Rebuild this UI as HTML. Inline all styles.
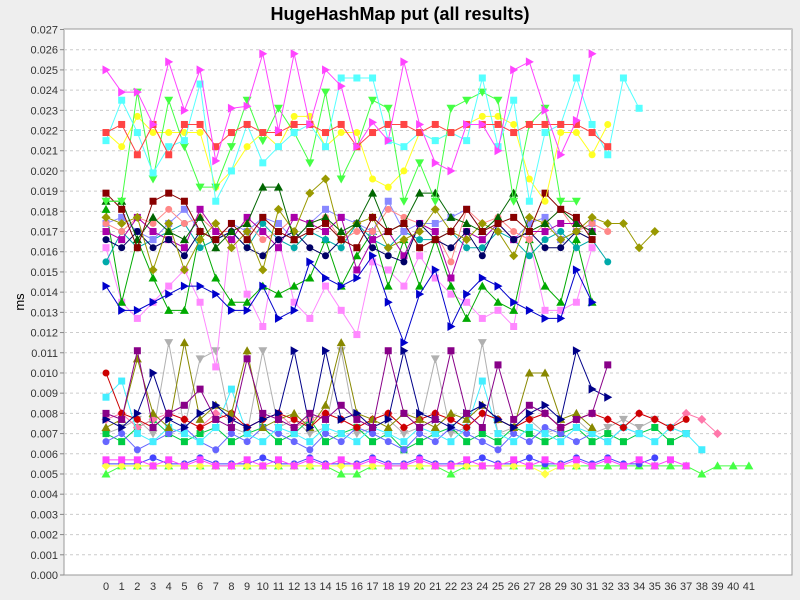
<!DOCTYPE html>
<html><head><meta charset="utf-8"><style>
body{margin:0;background:#eeeeee;font-family:"Liberation Sans",sans-serif}
svg{display:block}
</style></head><body>
<svg id="chart" width="800" height="600">
<rect x="0" y="0" width="800" height="600" fill="#eeeeee"/>
<text x="400" y="20" text-anchor="middle" font-size="18" font-weight="bold" fill="#000">HugeHashMap put (all results)</text>
<rect x="64" y="29" width="728" height="546" fill="#fff" stroke="#999"/>
<text transform="translate(24,302) rotate(-90)" text-anchor="middle" font-size="13">ms</text>
<g id="grid"></g>
<g id="series"></g>
<g id="axes"></g>
</svg>
<script>
const yTicks=[0,0.001,0.002,0.003,0.004,0.005,0.006,0.007,0.008,0.009,0.010,0.011,0.012,0.013,0.014,0.015,0.016,0.017,0.018,0.019,0.020,0.021,0.022,0.023,0.024,0.025,0.026,0.027];
const xCats=[];for(let i=0;i<=41;i++)xCats.push(i);
const magentaTop=[0.0250,0.0239,0.0239,0.0223,0.0254,0.0230,0.0250,0.0205,0.0231,0.0232,0.0258,0.0220,0.0258,0.0223,0.0250,0.0242,0.0212,0.0224,0.0215,0.0254,0.0223,0.0204,0.0200,0.0223,0.0223,0.0210,0.0250,0.0254,0.0230,0.0208,0.0225,0.0258];
const redTop=[0.0219,0.0223,0.0208,0.0223,0.0208,0.0223,0.0223,0.0212,0.0219,0.0223,0.0219,0.0219,0.0223,0.0223,0.0219,0.0223,0.0212,0.0219,0.0223,0.0223,0.0219,0.0223,0.0219,0.0223,0.0223,0.0223,0.0219,0.0223,0.0223,0.0223,0.0223,0.0219,0.0212];
const cyanTop=[0.0215,0.0235,0.0219,0.0199,0.0212,0.0215,0.0243,0.0185,0.0200,0.0223,0.0204,0.0212,0.0219,0.0223,0.0212,0.0246,0.0246,0.0246,0.0215,0.0212,0.0219,0.0215,0.0219,0.0215,0.0246,0.0212,0.0235,0.0185,0.0219,0.0223,0.0246,0.0223,0.0208,0.0246,0.0231];
const greenTop=[0.0185,0.0185,0.0239,0.0196,0.0235,0.0212,0.0192,0.0192,0.0212,0.0235,0.0215,0.0231,0.0219,0.0204,0.0239,0.0196,0.0212,0.0235,0.0231,0.0185,0.0204,0.0185,0.0231,0.0235,0.0239,0.0235,0.0185,0.0223,0.0231,0.0185,0.0185];
const yellowTop=[0.0219,0.0212,0.0227,0.0219,0.0219,0.0219,0.0219,0.0192,0.0200,0.0212,0.0219,0.0212,0.0227,0.0227,0.0212,0.0219,0.0219,0.0196,0.0192,0.0200,0.0219,0.0215,0.0219,0.0223,0.0227,0.0227,0.0223,0.0196,0.0185,0.0219,0.0219,0.0208,0.0223];
const blueMid=[0.0143,0.0131,0.0131,0.0135,0.0139,0.0143,0.0143,0.0139,0.0131,0.0131,0.0143,0.0127,0.0131,0.0155,0.0147,0.0143,0.0147,0.0158,0.0135,0.0115,0.0139,0.0151,0.0123,0.0139,0.0147,0.0143,0.0135,0.0131,0.0127,0.0127,0.0151,0.0135];
const greenMid=[0.0181,0.0135,0.0166,0.0147,0.0131,0.0131,0.0170,0.0147,0.0135,0.0135,0.0143,0.0139,0.0143,0.0147,0.0166,0.0143,0.0158,0.0170,0.0143,0.0166,0.0143,0.0166,0.0143,0.0127,0.0143,0.0135,0.0131,0.0166,0.0143,0.0135,0.0166,0.0135];
const pinkMid=[0.0162,0.0135,0.0127,0.0135,0.0143,0.0151,0.0135,0.0103,0.0174,0.0139,0.0123,0.0166,0.0135,0.0127,0.0143,0.0131,0.0119,0.0155,0.0151,0.0143,0.0158,0.0147,0.0139,0.0135,0.0127,0.0131,0.0123,0.0166,0.0131,0.0131,0.0135,0.0162];
const maroonUp=[0.0189,0.0181,0.0162,0.0185,0.0189,0.0185,0.0170,0.0166,0.0174,0.0166,0.0177,0.0170,0.0166,0.0170,0.0174,0.0166,0.0162,0.0177,0.0170,0.0174,0.0162,0.0166,0.0170,0.0181,0.0170,0.0174,0.0177,0.0170,0.0189,0.0181,0.0177,0.0166];
const navyUp=[0.0166,0.0162,0.0170,0.0162,0.0166,0.0158,0.0170,0.0166,0.0170,0.0162,0.0158,0.0166,0.0170,0.0162,0.0158,0.0166,0.0174,0.0162,0.0158,0.0155,0.0174,0.0166,0.0162,0.0170,0.0158,0.0174,0.0166,0.0170,0.0162,0.0162,0.0170,0.0166];
const oliveUp=[0.0177,0.0174,0.0177,0.0151,0.0174,0.0151,0.0166,0.0174,0.0162,0.0170,0.0151,0.0181,0.0170,0.0189,0.0196,0.0166,0.0174,0.0177,0.0162,0.0166,0.0170,0.0181,0.0170,0.0166,0.0174,0.0170,0.0158,0.0177,0.0174,0.0166,0.0170,0.0177,0.0174,0.0174,0.0162,0.0170];
const purpleUp=[0.0170,0.0166,0.0177,0.0170,0.0166,0.0162,0.0181,0.0170,0.0166,0.0177,0.0170,0.0162,0.0177,0.0174,0.0170,0.0177,0.0151,0.0166,0.0170,0.0158,0.0174,0.0170,0.0147,0.0170,0.0166,0.0174,0.0166,0.0170,0.0170,0.0174,0.0174,0.0170];
const dgreenUp=[0.0185,0.0185,0.0166,0.0177,0.0170,0.0166,0.0177,0.0162,0.0170,0.0174,0.0192,0.0192,0.0166,0.0174,0.0177,0.0170,0.0174,0.0189,0.0170,0.0174,0.0189,0.0189,0.0177,0.0174,0.0170,0.0177,0.0189,0.0170,0.0174,0.0181,0.0174,0.0170];
const salmonUp=[0.0174,0.0170,0.0177,0.0174,0.0181,0.0174,0.0177,0.0170,0.0170,0.0174,0.0166,0.0170,0.0177,0.0174,0.0177,0.0166,0.0170,0.0170,0.0181,0.0177,0.0174,0.0170,0.0155,0.0181,0.0174,0.0177,0.0170,0.0166,0.0174,0.0181,0.0170,0.0174,0.0170];
const tealUp=[0.0155,0.0170,0.0162,0.0166,0.0170,0.0174,0.0162,0.0166,0.0170,0.0162,0.0174,0.0166,0.0162,0.0170,0.0166,0.0162,0.0174,0.0166,0.0162,0.0170,0.0166,0.0166,0.0170,0.0162,0.0162,0.0170,0.0166,0.0158,0.0166,0.0170,0.0162,0.0166,0.0155];
const lavUp=[0.0174,0.0177,0.0170,0.0166,0.0174,0.0181,0.0170,0.0166,0.0174,0.0170,0.0177,0.0174,0.0166,0.0174,0.0181,0.0177,0.0174,0.0170,0.0185,0.0170,0.0174,0.0174,0.0177,0.0181,0.0170,0.0174,0.0166,0.0174,0.0177,0.0166,0.0170,0.0174];
const purpleLow=[0.0080,0.0077,0.0111,0.0073,0.0080,0.0084,0.0092,0.0077,0.0073,0.0107,0.0080,0.0077,0.0073,0.0080,0.0077,0.0084,0.0077,0.0073,0.0111,0.0080,0.0073,0.0077,0.0111,0.0080,0.0073,0.0104,0.0077,0.0084,0.0080,0.0073,0.0077,0.0080,0.0104];
const navyLow=[0.0077,0.0073,0.0080,0.0100,0.0077,0.0073,0.0080,0.0084,0.0077,0.0073,0.0077,0.0080,0.0111,0.0073,0.0111,0.0077,0.0080,0.0073,0.0077,0.0111,0.0080,0.0077,0.0073,0.0080,0.0084,0.0077,0.0073,0.0080,0.0084,0.0077,0.0111,0.0092,0.0088];
const oliveLow=[0.0073,0.0077,0.0107,0.0080,0.0073,0.0115,0.0077,0.0084,0.0080,0.0111,0.0073,0.0077,0.0080,0.0073,0.0084,0.0115,0.0080,0.0077,0.0073,0.0080,0.0077,0.0073,0.0080,0.0077,0.0084,0.0077,0.0073,0.0100,0.0100,0.0077,0.0080,0.0073];
const grayLow=[0.0070,0.0073,0.0077,0.0070,0.0115,0.0073,0.0107,0.0111,0.0073,0.0070,0.0111,0.0073,0.0077,0.0070,0.0073,0.0111,0.0070,0.0073,0.0077,0.0070,0.0073,0.0107,0.0070,0.0073,0.0115,0.0070,0.0073,0.0077,0.0070,0.0073,0.0077,0.0070,0.0073,0.0077,0.0073,0.0077,0.0073,0.0070];
const redLow=[0.0100,0.0080,0.0077,0.0073,0.0080,0.0077,0.0073,0.0077,0.0080,0.0073,0.0077,0.0080,0.0077,0.0073,0.0080,0.0077,0.0073,0.0077,0.0080,0.0073,0.0077,0.0080,0.0077,0.0073,0.0080,0.0077,0.0073,0.0077,0.0080,0.0073,0.0077,0.0080,0.0077,0.0073,0.0080,0.0077,0.0073,0.0077];
const cyanLow=[0.0088,0.0096,0.0070,0.0066,0.0073,0.0070,0.0066,0.0073,0.0092,0.0070,0.0066,0.0073,0.0070,0.0066,0.0073,0.0070,0.0066,0.0073,0.0070,0.0066,0.0073,0.0070,0.0066,0.0073,0.0096,0.0070,0.0066,0.0073,0.0070,0.0066,0.0073,0.0070,0.0066,0.0073,0.0070,0.0066,0.0073,0.0070,0.0062];
const greenLow=[0.0070,0.0066,0.0073,0.0077,0.0070,0.0066,0.0070,0.0073,0.0066,0.0070,0.0073,0.0066,0.0070,0.0077,0.0066,0.0070,0.0073,0.0066,0.0070,0.0062,0.0066,0.0070,0.0073,0.0066,0.0070,0.0066,0.0073,0.0070,0.0066,0.0070,0.0073,0.0066,0.0070,0.0066,0.0070,0.0073,0.0066,0.0070];
const blueLow=[0.0066,0.0070,0.0062,0.0066,0.0070,0.0073,0.0066,0.0062,0.0070,0.0066,0.0073,0.0070,0.0066,0.0062,0.0070,0.0066,0.0073,0.0070,0.0066,0.0062,0.0070,0.0066,0.0073,0.0070,0.0066,0.0062,0.0070,0.0066,0.0073,0.0070,0.0066,0.0070,0.0066,0.0073,0.0070];
const pinkLow=[0.0077,0.0080,0.0073,0.0077,0.0080,0.0077,0.0073,0.0080,0.0077,0.0073,0.0077,0.0080,0.0073,0.0077,0.0080,0.0077,0.0073,0.0077,0.0080,0.0073,0.0077,0.0080,0.0077,0.0073,0.0080,0.0077,0.0073,0.0077,0.0080,0.0073,0.0077,0.0080,0.0077,0.0073,0.0080,0.0077,0.0073,0.0080,0.0077,0.0070];
const magentaBot=[0.0057,0.0057,0.0057,0.0054,0.0057,0.0054,0.0057,0.0054,0.0054,0.0057,0.0054,0.0057,0.0054,0.0057,0.0054,0.0057,0.0054,0.0057,0.0054,0.0054,0.0057,0.0054,0.0054,0.0057,0.0054,0.0054,0.0057,0.0054,0.0057,0.0054,0.0057,0.0054,0.0057,0.0054,0.0057,0.0054,0.0057,0.0054];
const yellowBot=[0.0054,0.0054,0.0054,0.0054,0.0054,0.0054,0.0054,0.0054,0.0054,0.0054,0.0054,0.0054,0.0054,0.0054,0.0054,0.0054,0.0054,0.0054,0.0054,0.0054,0.0054,0.0054,0.0054,0.0054,0.0054,0.0054,0.0054,0.0054,0.0050,0.0054,0.0054];
const blueBot=[0.0055,0.0055,0.0055,0.0058,0.0055,0.0055,0.0058,0.0055,0.0055,0.0055,0.0058,0.0055,0.0055,0.0058,0.0055,0.0055,0.0055,0.0058,0.0055,0.0055,0.0058,0.0055,0.0055,0.0055,0.0058,0.0055,0.0055,0.0058,0.0055,0.0055,0.0058,0.0055,0.0058,0.0055,0.0055,0.0058];
const greenBot=[0.0050,0.0054,0.0054,0.0054,0.0054,0.0054,0.0054,0.0054,0.0054,0.0054,0.0054,0.0054,0.0054,0.0054,0.0054,0.0050,0.0050,0.0054,0.0054,0.0054,0.0054,0.0054,0.0050,0.0054,0.0054,0.0054,0.0054,0.0054,0.0054,0.0054,0.0054,0.0054,0.0054,0.0054,0.0054,0.0054,0.0054,0.0054,0.0050,0.0054,0.0054,0.0054];
const series=[
 ['grayLow',grayLow,'#b0b0b0','down'],['greenLow',greenLow,'#00cc44','square'],['blueLow',blueLow,'#6666ff','circle'],
 ['pinkLow',pinkLow,'#ff77aa','diamond'],['cyanLow',cyanLow,'#44eeff','square'],['redLow',redLow,'#cc0000','circle'],
 ['oliveLow',oliveLow,'#888800','up'],['navyLow',navyLow,'#000088','right'],['purpleLow',purpleLow,'#880088','square'],
 ['greenBot',greenBot,'#44ff44','up'],['blueBot',blueBot,'#4444ff','circle'],['yellowBot',yellowBot,'#ffff44','diamond'],['magentaBot',magentaBot,'#ff44ff','square'],
 ['pinkMid',pinkMid,'#ff88ff','square'],['greenMid',greenMid,'#00aa00','up'],['blueMid',blueMid,'#0000cc','right'],
 ['tealUp',tealUp,'#00aaaa','circle'],['lavUp',lavUp,'#8888ff','square'],['salmonUp',salmonUp,'#ff8888','circle'],
 ['purpleUp',purpleUp,'#aa00aa','square'],['navyUp',navyUp,'#000066','circle'],['oliveUp',oliveUp,'#999900','diamond'],
 ['dgreenUp',dgreenUp,'#006600','up'],['maroonUp',maroonUp,'#880000','square'],
 ['yellowTop',yellowTop,'#ffff22','circle'],['greenTop',greenTop,'#44ff44','down'],['cyanTop',cyanTop,'#55ffff','square'],
 ['redTop',redTop,'#ff4444','square'],['magentaTop',magentaTop,'#ff44ff','right']
];
const NS='http://www.w3.org/2000/svg';
const X0=106,DX=15.68,Y0=575,YTOP=29.5,YMAX=0.027;
function xs(i){return X0+i*DX;}
function ys(v){return Y0-(v/YMAX)*(Y0-YTOP);}
function mk(tag,attrs,parent){const e=document.createElementNS(NS,tag);for(const k in attrs)e.setAttribute(k,attrs[k]);parent.appendChild(e);return e;}
const grid=document.getElementById('grid'),axes=document.getElementById('axes'),sg=document.getElementById('series');
yTicks.forEach(t=>{const y=ys(t);
 if(t>0){const l=mk('line',{x1:64,x2:792,y1:y,y2:y,stroke:'#ccc','stroke-dasharray':'3,3'},grid);
 
 }
 mk('line',{x1:60,x2:64,y1:y,y2:y,stroke:'#888'},axes);
 const tx=mk('text',{x:58,y:y+4,'text-anchor':'end','font-size':'11',fill:'#333'},axes);tx.textContent=t.toFixed(3);
 
 
});
xCats.forEach(c=>{const tx=mk('text',{x:xs(c),y:590,'text-anchor':'middle','font-size':'11',fill:'#333'},axes);tx.textContent=c;
 
 
});
function marker(shape,x,y,c,g){const s=3.5;let e;
 if(shape==='square')e=mk('rect',{x:x-s,y:y-s,width:2*s,height:2*s,fill:c},g);
 else if(shape==='circle')e=mk('circle',{cx:x,cy:y,r:s,fill:c},g);
 else{let p;
  if(shape==='up')p=[[x,y-s-1],[x+s+1,y+s],[x-s-1,y+s]];
  else if(shape==='down')p=[[x-s-1,y-s],[x+s+1,y-s],[x,y+s+1]];
  else if(shape==='right')p=[[x-s,y-s-1],[x+s+1,y],[x-s,y+s+1]];
  else p=[[x,y-s-1],[x+s+1,y],[x,y+s+1],[x-s-1,y]];
  e=mk('polygon',{points:p.map(q=>q.join(',')).join(' '),fill:c},g);}
 return e;}
series.forEach(([name,vals,col,shape])=>{
 const g=mk('g',{},sg);
 
 
 const pl=mk('polyline',{points:vals.map((v,i)=>xs(i)+','+ys(v)).join(' '),fill:'none',stroke:col,'stroke-width':'1'},g);
 
 
 vals.forEach((v,i)=>{const m=marker(shape,xs(i),ys(v),col,g);
  
  });
});
</script>
</body></html>
